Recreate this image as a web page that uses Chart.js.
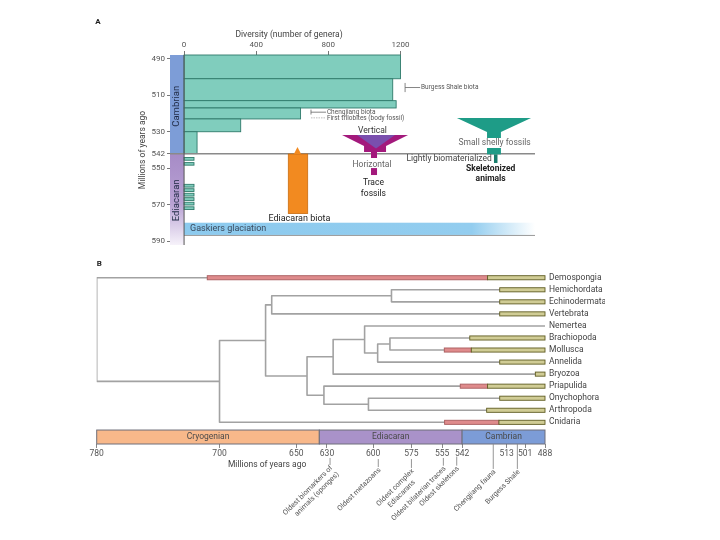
<!DOCTYPE html>
<html><head><meta charset="utf-8">
<script src="https://cdn.jsdelivr.net/npm/chart.js@4.4.1/dist/chart.umd.min.js"></script>
<style>
html,body{margin:0;padding:0;background:#fff;}
#wrap{position:relative;width:720px;height:540px;overflow:hidden;}
#ca{position:absolute;left:0;top:0;}
#cb{position:absolute;left:0;top:255px;}
</style></head><body>
<div id="wrap">
<canvas id="ca" width="720" height="255"></canvas>
<canvas id="cb" width="720" height="285"></canvas>
</div>
<script>
// ---------------- DATA: panel A ----------------
const diversityTicks = [0, 400, 800, 1200];
const ageTicksA = [490, 510, 530, 542, 550, 570, 590];
const cambrianBinTop = [488, 501, 513, 517, 523, 530];
const cambrianBinBase = [501, 513, 517, 523, 530, 542];
const cambrianGenera = [1200, 1157, 1176, 646, 314, 72];
const ediacaranBinTop = [544.1, 546.9, 558.8, 561.2, 563.7, 566.1, 568.6, 571.1];
const ediacaranBinBase = [545.6, 548.3, 560.3, 562.7, 565.2, 567.6, 570.1, 572.6];
const ediacaranGenera = [55, 55, 55, 55, 55, 55, 55, 55];
const periodsA = ['Cambrian', 'Ediacaran'];
const periodsATop = [488, 542];
const periodsABase = [542, 592];
const gaskiersRange = [579.8, 586.5];
const ediacaranBiotaRange = [542.2, 574.8];

// ---------------- DATA: panel B ----------------
const taxa = ['Demospongia','Hemichordata','Echinodermata','Vertebrata','Nemertea','Brachiopoda','Mollusca','Annelida','Bryozoa','Priapulida','Onychophora','Arthropoda','Cnidaria'];
const redRangeStart = [708, null, null, null, null, null, 553.6, null, null, 543.2, null, null, 553.4];
const oliveRangeStart = [525.4, 517.5, 517.5, 517.5, null, 537, 536, 517.5, 494.3, 525.4, 517.5, 526, 518];
const presentAge = 488;
const nodeIds = ['root','eumetazoa','bilateria','deuterostomia','ambulacraria','protostomia','lophotrochozoa','lophoA','lophoB','lophoC','ecdysozoa','panarthropoda'];
const nodeAges = [780, 700, 670, 666, 588, 643, 626, 605.5, 597, 589, 632, 603];
const nodeChildren = [
  ['Demospongia','eumetazoa'],
  ['bilateria','Cnidaria'],
  ['deuterostomia','protostomia'],
  ['ambulacraria','Vertebrata'],
  ['Hemichordata','Echinodermata'],
  ['lophotrochozoa','ecdysozoa'],
  ['lophoA','Bryozoa'],
  ['Nemertea','lophoB'],
  ['lophoC','Annelida'],
  ['Brachiopoda','Mollusca'],
  ['Priapulida','panarthropoda'],
  ['Onychophora','Arthropoda']
];
const periodNames = ['Cryogenian','Ediacaran','Cambrian'];
const periodStart = [780, 635, 542];
const periodEnd = [635, 542, 488];
const ageTicksB = [780, 700, 650, 630, 600, 575, 555, 542, 513, 501, 488];
const eventLabels = [['Oldest biomarkers of','animals (sponges)'],['Oldest metazoans'],['Oldest complex','Ediacarans'],['Oldest bilaterian traces'],['Oldest skeletons'],['Chengjiang fauna'],['Burgess Shale']];
const eventAges = [628, 596.6, 575, 554.2, 545.5, 521.7, 506];

// ---------------- layout / style (not data) ----------------
const FONT = 'Roboto, "Liberation Sans", Arial, sans-serif';
const eventLineTop = [14.96, 15.05, 15.05, 14.96, 14.85, 13.8, 13.8];
const eventLineBot = [15.54, 15.71, 15.79, 15.6, 15.6, 15.87, 15.87];
const eventAlign = ['right','right','center','right','right','right','right'];
const PERIOD_BAR = [12.64, 13.8];
const BAR_HALF = 0.17;

Chart.defaults.font.family = FONT;
Chart.defaults.animation = false;

function fnt(size, weight){ return (weight || 'normal') + ' ' + size + 'px ' + FONT; }

// ---------------- Panel A plugin ----------------
const panelAPlugin = {
  id: 'panelA',
  beforeDatasetsDraw(chart) {
    const ctx = chart.ctx, X = chart.scales.x, Y = chart.scales.y;
    const px = v => X.getPixelForValue(v), py = v => Y.getPixelForValue(v);
    const xMin = X.min, xMax = X.max;
    ctx.save();
    periodsA.forEach((p, i) => {
      const x0 = px(xMin), x1 = px(0), y0 = py(periodsATop[i]), y1 = py(periodsABase[i]);
      if (i === 0) ctx.fillStyle = '#7d9dd7';
      else {
        const g = ctx.createLinearGradient(0, y0, 0, y1);
        g.addColorStop(0, '#a68bc6'); g.addColorStop(0.55, '#b9a2d4'); g.addColorStop(1, '#f6f2fa');
        ctx.fillStyle = g;
      }
      ctx.fillRect(x0, y0, x1 - x0, y1 - y0);
      ctx.save();
      ctx.translate((x0 + x1) / 2, (y0 + y1) / 2 + (i === 0 ? 2 : 1));
      ctx.rotate(-Math.PI / 2);
      ctx.font = fnt(9.5); ctx.fillStyle = '#1f2a44'; ctx.textAlign = 'center'; ctx.textBaseline = 'middle';
      ctx.fillText(p, 0, 0);
      ctx.restore();
    });
    {
      const x0 = px(0), x1 = px(xMax), y0 = py(gaskiersRange[0]), y1 = py(gaskiersRange[1]);
      const g = ctx.createLinearGradient(x0, 0, x1, 0);
      g.addColorStop(0, '#8ccaee'); g.addColorStop(0.82, '#93cdef'); g.addColorStop(1, '#ffffff');
      ctx.fillStyle = g; ctx.fillRect(x0, y0, x1 - x0, y1 - y0);
      ctx.strokeStyle = '#9a9a9a'; ctx.lineWidth = 1;
      ctx.beginPath(); ctx.moveTo(x0, y1 + 0.5); ctx.lineTo(x1, y1 + 0.5); ctx.stroke();
      ctx.font = fnt(9); ctx.fillStyle = '#3b4b5e'; ctx.textAlign = 'left'; ctx.textBaseline = 'middle';
      ctx.fillText('Gaskiers glaciation', px(33), (y0 + y1) / 2);
    }
    const bar = (v, t, b) => {
      const x0 = px(0), x1 = px(v), y0 = py(t), y1 = py(b);
      ctx.fillStyle = '#80cdbd'; ctx.fillRect(x0, y0, x1 - x0, y1 - y0);
      ctx.strokeStyle = '#2f7a6b'; ctx.lineWidth = 0.9; ctx.strokeRect(x0, y0, x1 - x0, y1 - y0);
    };
    cambrianGenera.forEach((v, i) => bar(v, cambrianBinTop[i], cambrianBinBase[i]));
    ediacaranGenera.forEach((v, i) => bar(v, ediacaranBinTop[i], ediacaranBinBase[i]));
    ctx.strokeStyle = '#8a8a8a'; ctx.lineWidth = 1.5;
    ctx.beginPath(); ctx.moveTo(px(xMin), py(542)); ctx.lineTo(px(xMax), py(542)); ctx.stroke();
    ctx.strokeStyle = '#555'; ctx.lineWidth = 1;
    ctx.beginPath(); ctx.moveTo(px(0), py(Y.min)); ctx.lineTo(px(0), py(Y.max)); ctx.stroke();

    const poly = (pts, fill) => {
      ctx.beginPath();
      pts.forEach((p, k) => { const a = px(p[0]), b = py(p[1]); k ? ctx.lineTo(a, b) : ctx.moveTo(a, b); });
      ctx.closePath(); ctx.fillStyle = fill; ctx.fill();
    };
    {
      const x0 = px(578), x1 = px(685.5), y0 = py(ediacaranBiotaRange[0]), y1 = py(ediacaranBiotaRange[1]);
      ctx.fillStyle = '#f28a20'; ctx.fillRect(x0, y0, x1 - x0, y1 - y0);
      ctx.strokeStyle = '#c96d12'; ctx.lineWidth = 0.8; ctx.strokeRect(x0, y0, x1 - x0, y1 - y0);
      poly([[609, 542.2], [629, 538.4], [649, 542.2]], '#f28a20');
      ctx.font = fnt(9); ctx.fillStyle = '#222'; ctx.textAlign = 'center'; ctx.textBaseline = 'middle';
      ctx.fillText('Ediacaran biota', px(639.6), py(577.4));
    }
    poly([[876,531.8],[1242,531.8],[1120,537.8],[1120,541.1],[1070,541.1],[1070,544.4],[1036.6,544.4],[1036.6,541.1],[998,541.1],[998,537.8]], '#a3197c');
    poly([[959,531.8],[1169.6,531.8],[1064.3,539.2]], '#7a4fae');
    {
      const x0 = px(1036.6), x1 = px(1070), y0 = py(549.9), y1 = py(553.7);
      ctx.fillStyle = '#a3197c'; ctx.fillRect(x0, y0, x1 - x0, y1 - y0);
    }
    poly([[1513,522.5],[1924,522.5],[1757,530.1],[1757,533.4],[1680,533.4],[1680,530.1]], '#1e9c87');
    {
      let x0 = px(1680), x1 = px(1757), y0 = py(538.9), y1 = py(542.4);
      ctx.fillStyle = '#1e9c87'; ctx.fillRect(x0, y0, x1 - x0, y1 - y0);
      x0 = px(1718.5); x1 = px(1738); y0 = py(542.4); y1 = py(547.1);
      ctx.fillStyle = '#177d6c'; ctx.fillRect(x0, y0, x1 - x0, y1 - y0);
    }
    const txt = (s, x, y, size, color, align, weight) => {
      ctx.font = fnt(size, weight); ctx.fillStyle = color; ctx.textAlign = align || 'center'; ctx.textBaseline = 'middle';
      ctx.fillText(s, px(x), py(y));
    };
    txt('Vertical', 1045, 529.4, 8.5, '#333');
    txt('Horizontal', 1042, 548.2, 8.5, '#666');
    txt('Trace', 1050, 558.1, 8.5, '#222');
    txt('fossils', 1050, 564.1, 8.5, '#222');
    txt('Small shelly fossils', 1722, 536.1, 8.5, '#666');
    txt('Lightly biomaterialized', 1706, 545.0, 8.5, '#444', 'right');
    txt('Skeletonized', 1700, 550.6, 8.5, '#222', 'center', 'bold');
    txt('animals', 1700, 556.0, 8.5, '#222', 'center', 'bold');
    ctx.strokeStyle = '#666'; ctx.lineWidth = 0.8;
    ctx.beginPath();
    ctx.moveTo(px(1225.6), py(503.3)); ctx.lineTo(px(1225.6), py(508.3));
    ctx.moveTo(px(1225.6), py(505.8)); ctx.lineTo(px(1309), py(505.8));
    ctx.moveTo(px(703.8), py(517.9)); ctx.lineTo(px(703.8), py(520.6));
    ctx.moveTo(px(703.8), py(519.3)); ctx.lineTo(px(787), py(519.3));
    ctx.stroke();
    ctx.strokeStyle = '#aaa'; ctx.setLineDash([1.5, 1]);
    ctx.beginPath(); ctx.moveTo(px(703.8), py(522.4)); ctx.lineTo(px(787), py(522.4)); ctx.stroke();
    ctx.setLineDash([]);
    txt('Burgess Shale biota', 1314, 505.9, 6.5, '#555', 'left');
    txt('Chengjiang biota', 792, 519.2, 6.5, '#555', 'left');
    txt('First trilobites (body fossil)', 792, 522.5, 6.5, '#555', 'left');
    ctx.restore();
  },
  afterDraw(chart) {
    const ctx = chart.ctx, X = chart.scales.x, Y = chart.scales.y;
    ctx.save();
    ctx.font = fnt(8, 'bold'); ctx.fillStyle = '#222'; ctx.textAlign = 'left'; ctx.textBaseline = 'middle';
    ctx.fillText('A', X.getPixelForValue(-492), Y.getPixelForValue(469.9));
    ctx.font = fnt(8.5); ctx.fillStyle = '#444'; ctx.textAlign = 'center';
    ctx.fillText('Diversity (number of genera)', X.getPixelForValue(582), Y.getPixelForValue(477));
    ctx.save();
    ctx.translate(X.getPixelForValue(-228), Y.getPixelForValue(540));
    ctx.rotate(-Math.PI / 2);
    ctx.fillText('Millions of years ago', 0, 0);
    ctx.restore();
    ctx.restore();
  }
};

new Chart(document.getElementById('ca'), {
  type: 'scatter',
  data: { datasets: [] },
  options: {
    responsive: false, animation: false,
    layout: { padding: { left: 142, right: 185, top: 25, bottom: 10 } },
    plugins: { legend: { display: false }, tooltip: { enabled: false } },
    scales: {
      x: {
        type: 'linear', position: 'top', min: -78, max: 1946,
        afterBuildTicks: s => { s.ticks = diversityTicks.map(v => ({ value: v })); },
        afterFit: s => { s.height = 30; },
        grid: { display: true, drawOnChartArea: false, drawTicks: true, tickLength: 4, color: '#777' },
        border: { display: false },
        ticks: { font: { size: 8 }, color: '#555', padding: 1, maxRotation: 0, autoSkip: false, callback: v => String(v) }
      },
      y: {
        type: 'linear', position: 'left', min: 488, max: 592, reverse: true,
        afterBuildTicks: s => { s.ticks = ageTicksA.map(v => ({ value: v })); },
        afterFit: s => { s.width = 28; },
        grid: { display: true, drawOnChartArea: false, drawTicks: true, tickLength: 3, color: '#777' },
        border: { display: false },
        ticks: { font: { size: 8 }, color: '#555', padding: 2, autoSkip: false, callback: v => String(v) }
      }
    }
  },
  plugins: [panelAPlugin]
});

// ---------------- Panel B ----------------
const yOf = {};
taxa.forEach((t, i) => { yOf[t] = i; });
const ageOf = {};
taxa.forEach(t => { ageOf[t] = presentAge; });
nodeIds.forEach((n, i) => { ageOf[n] = nodeAges[i]; });
function nodeY(id) {
  if (id in yOf) return yOf[id];
  const k = nodeIds.indexOf(id);
  const kids = nodeChildren[k];
  yOf[id] = (nodeY(kids[0]) + nodeY(kids[1])) / 2;
  return yOf[id];
}
const treeDatasets = nodeIds.map((id, k) => {
  const [a, b] = nodeChildren[k];
  const A = nodeAges[k];
  return {
    data: [
      { x: ageOf[a], y: nodeY(a) }, { x: A, y: nodeY(a) },
      { x: A, y: nodeY(b) }, { x: ageOf[b], y: nodeY(b) }
    ],
    showLine: true, pointRadius: 0, borderColor: '#a2a2a2', borderWidth: 1.6,
    fill: false, tension: 0, borderJoinStyle: 'round'
  };
});

const panelBPlugin = {
  id: 'panelB',
  beforeDatasetsDraw(chart) {
    const ctx = chart.ctx, X = chart.scales.x, Y = chart.scales.y;
    ctx.save();
    const cols = ['#f8b88a', '#a992c9', '#7c9cd7'];
    periodNames.forEach((p, i) => {
      const x0 = X.getPixelForValue(periodStart[i]), x1 = X.getPixelForValue(periodEnd[i]);
      const y0 = Y.getPixelForValue(PERIOD_BAR[0]), y1 = Y.getPixelForValue(PERIOD_BAR[1]);
      ctx.fillStyle = cols[i]; ctx.fillRect(x0, y0, x1 - x0, y1 - y0);
      ctx.strokeStyle = '#6f6f7a'; ctx.lineWidth = 1; ctx.strokeRect(x0, y0, x1 - x0, y1 - y0);
      ctx.font = fnt(8.5); ctx.fillStyle = '#4a4a4a'; ctx.textAlign = 'center'; ctx.textBaseline = 'middle';
      ctx.fillText(p, (x0 + x1) / 2, (y0 + y1) / 2);
    });
    ctx.restore();
  },
  afterDatasetsDraw(chart) {
    const ctx = chart.ctx, X = chart.scales.x, Y = chart.scales.y;
    ctx.save();
    const rng = (a, b, y, fill, stroke) => {
      const x0 = X.getPixelForValue(a), x1 = X.getPixelForValue(b);
      const y0 = Y.getPixelForValue(y - BAR_HALF), y1 = Y.getPixelForValue(y + BAR_HALF);
      ctx.fillStyle = fill; ctx.fillRect(x0, y0, x1 - x0, y1 - y0);
      ctx.strokeStyle = stroke; ctx.lineWidth = 0.9; ctx.strokeRect(x0, y0, x1 - x0, y1 - y0);
    };
    taxa.forEach((t, i) => {
      const ol = oliveRangeStart[i], rd = redRangeStart[i];
      if (rd !== null) rng(rd, ol !== null ? ol : presentAge, i, '#df8b8c', '#a85c5e');
      if (ol !== null) rng(ol, presentAge, i, '#d0cc95', '#5f5c22');
    });
    ctx.restore();
  },
  afterDraw(chart) {
    const ctx = chart.ctx, X = chart.scales.x, Y = chart.scales.y;
    ctx.save();
    ctx.font = fnt(8, 'bold'); ctx.fillStyle = '#222'; ctx.textAlign = 'left'; ctx.textBaseline = 'middle';
    ctx.fillText('B', X.getPixelForValue(780), Y.getPixelForValue(-1.14));
    ctx.font = fnt(8.5); ctx.fillStyle = '#444'; ctx.textAlign = 'center';
    ctx.fillText('Millions of years ago', X.getPixelForValue(669), Y.getPixelForValue(15.54));
    eventLabels.forEach((lines, i) => {
      const x = X.getPixelForValue(eventAges[i]);
      const y0 = Y.getPixelForValue(eventLineTop[i]), y1 = Y.getPixelForValue(eventLineBot[i]);
      ctx.strokeStyle = '#8a8a8a'; ctx.lineWidth = 0.9;
      ctx.beginPath(); ctx.moveTo(x, y0); ctx.lineTo(x, y1); ctx.stroke();
      ctx.save();
      ctx.translate(x + 1.5, y1 + 2);
      ctx.rotate(-Math.PI / 4);
      ctx.font = fnt(7.2); ctx.fillStyle = '#555'; ctx.textBaseline = 'middle';
      const w = Math.max(...lines.map(l => ctx.measureText(l).width));
      lines.forEach((l, j) => {
        if (eventAlign[i] === 'center') { ctx.textAlign = 'center'; ctx.fillText(l, -w / 2, j * 9); }
        else { ctx.textAlign = 'right'; ctx.fillText(l, 0, j * 9); }
      });
      ctx.restore();
    });
    ctx.restore();
  }
};

new Chart(document.getElementById('cb'), {
  type: 'scatter',
  data: { datasets: treeDatasets },
  options: {
    responsive: false, animation: false,
    layout: { padding: { left: 96.7, right: 115, top: 10.7, bottom: 76 } },
    plugins: { legend: { display: false }, tooltip: { enabled: false } },
    scales: {
      x: {
        type: 'linear', position: 'bottom', min: 488, max: 780, reverse: true,
        afterBuildTicks: s => { s.ticks = ageTicksB.map(v => ({ value: v })); },
        afterFit: s => { s.height = 20; },
        grid: { display: true, drawOnChartArea: false, drawTicks: true, tickLength: 4, color: '#888' },
        border: { display: false },
        ticks: { font: { size: 8.5 }, color: '#555', padding: 1, maxRotation: 0, autoSkip: false, callback: v => String(v) }
      },
      y: {
        type: 'linear', position: 'right', min: -1, max: 13.8, reverse: true,
        afterBuildTicks: s => { s.ticks = taxa.map((t, i) => ({ value: i })); },
        afterFit: s => { s.width = 60; },
        grid: { display: false, drawTicks: false },
        border: { display: false },
        ticks: { font: { size: 8.5 }, color: '#444', padding: 4, autoSkip: false, callback: v => taxa[v] }
      }
    }
  },
  plugins: [panelBPlugin]
});
</script>
</body></html>
